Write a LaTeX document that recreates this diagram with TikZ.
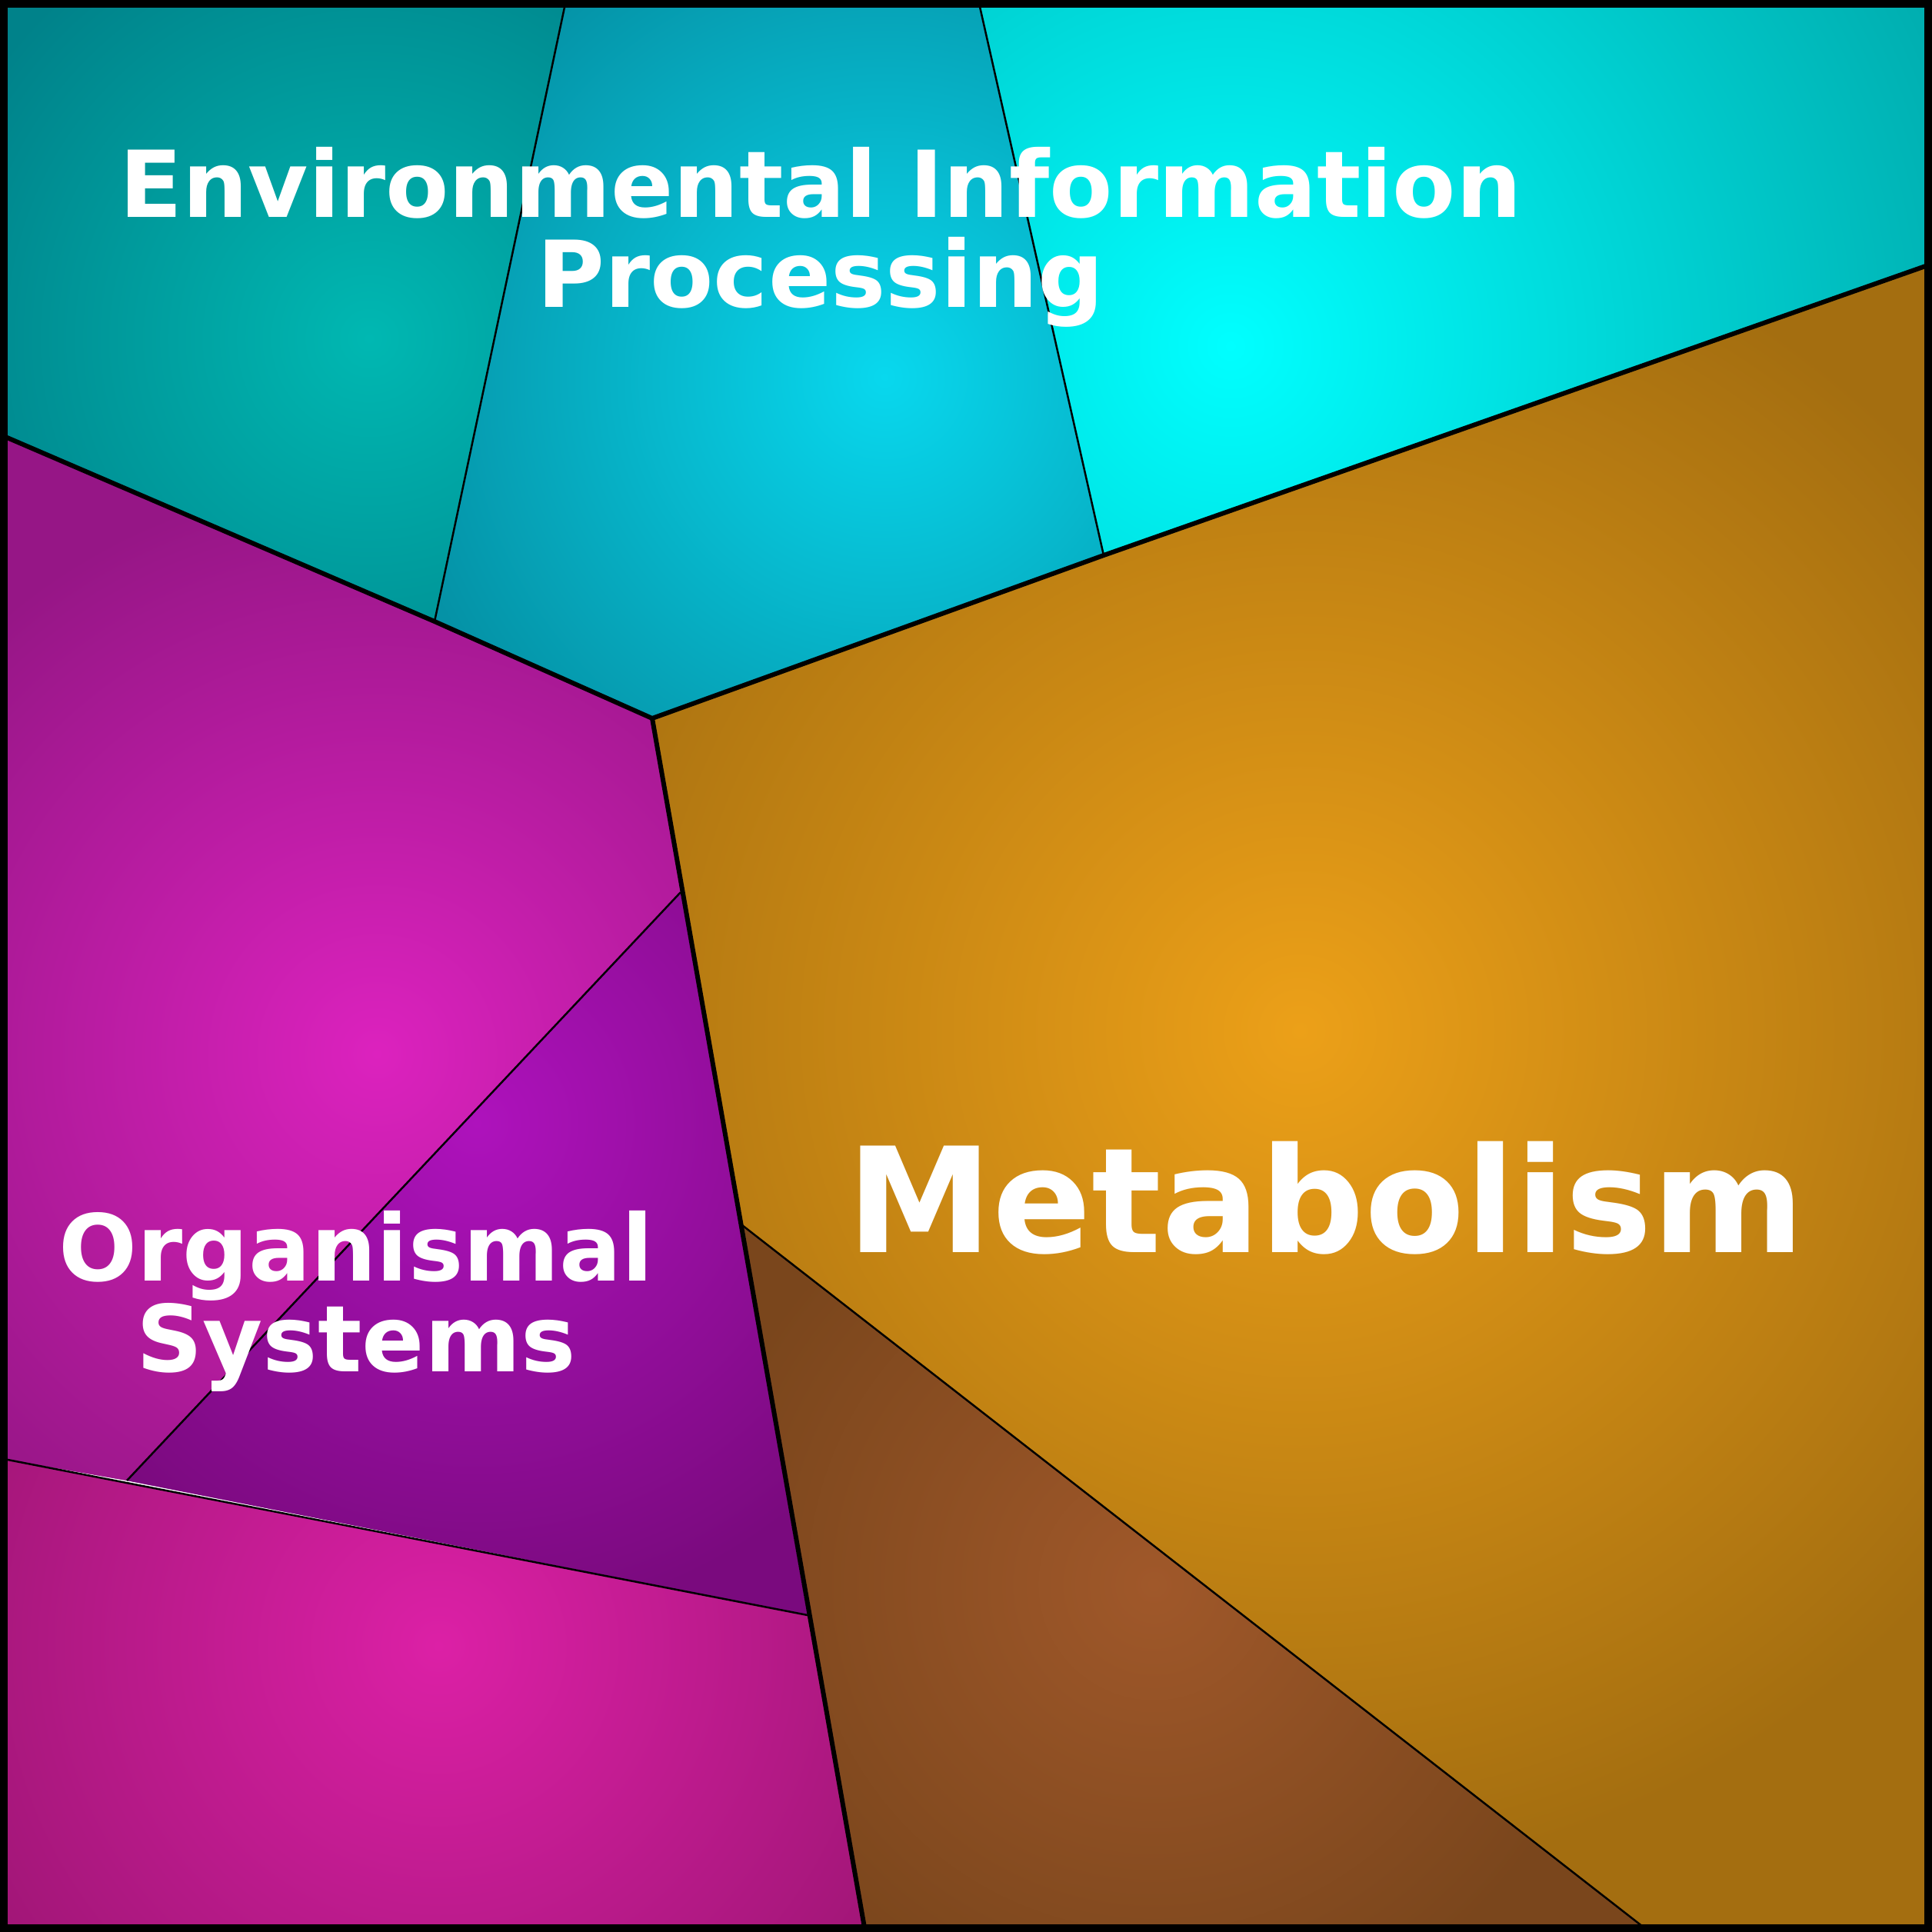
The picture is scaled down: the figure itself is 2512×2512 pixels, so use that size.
\documentclass[tikz,border=0pt]{standalone}
\usepackage{fontspec}
\setmainfont{DejaVu Sans}
\begin{document}
\begin{tikzpicture}[x=1pt,y=-1pt,
  lbl/.style={text=white,font=\bfseries,align=center,inner sep=0pt}]
\useasboundingbox (0,0) rectangle (2512,2512);
\newcommand{\region}[6]{%
  \begin{scope}\clip #1;
  \fill[#4] (0,0) rectangle (2512,2512);
  \shade[inner color=#3,outer color=#4] (#2) circle (#5);
  \end{scope}}
\coordinate (p1) at (0,565);
\coordinate (p2) at (565,808);
\coordinate (p3) at (848,934);
\coordinate (p4) at (1435,722);
\coordinate (p5) at (2512,343);
\coordinate (t1) at (736,0);
\coordinate (t2) at (1272,0);
\coordinate (q1) at (885,1160);
\coordinate (q2) at (965,1593);
\coordinate (q3) at (1050,2100);
\coordinate (q4) at (1125,2512);
\coordinate (r1) at (165,1925);
\coordinate (r2) at (0,1896);
\coordinate (r3) at (2145,2512);
\definecolor{a1}{HTML}{00B8B2}\definecolor{a2}{HTML}{00828A}
\definecolor{b1}{HTML}{08D8EE}\definecolor{b2}{HTML}{0592A6}
\definecolor{c1}{HTML}{00FFFF}\definecolor{c2}{HTML}{00AEB0}
\definecolor{d1}{HTML}{ECA018}\definecolor{d2}{HTML}{A46E10}
\definecolor{e1}{HTML}{A0582A}\definecolor{e2}{HTML}{7A461C}
\definecolor{f1}{HTML}{DC22BE}\definecolor{f2}{HTML}{961686}
\definecolor{g1}{HTML}{AE12BC}\definecolor{g2}{HTML}{7A0A7E}
\definecolor{h1}{HTML}{DC20A6}\definecolor{h2}{HTML}{96146E}
\region{(0,0)--(t1)--(p2)--(p1)--cycle}{480,440}{a1}{a2}{600}{}
\region{(t1)--(t2)--(p4)--(p3)--(p2)--cycle}{1150,490}{b1}{b2}{650}{}
\region{(t2)--(2512,0)--(p5)--(p4)--cycle}{1600,450}{c1}{c2}{1000}{}
\region{(p3)--(p4)--(p5)--(2512,2512)--(r3)--(q2)--cycle}{1690,1340}{d1}{d2}{1100}{}
\region{(q2)--(r3)--(q4)--(q3)--cycle}{1500,2060}{e1}{e2}{600}{}
\region{(p1)--(p2)--(p3)--(q1)--(r1)--(r2)--cycle}{490,1370}{f1}{f2}{750}{}
\region{(q1)--(q3)--(r1)--cycle}{620,1460}{g1}{g2}{650}{}
\region{(r2)--(q3)--(q4)--(0,2512)--cycle}{570,2140}{h1}{h2}{800}{}
\draw[line width=2.5pt] (t1)--(p2) (t2)--(p4) (q1)--(r1) (r2)--(q3) (q2)--(r3);
\draw[line width=6pt,line join=round] (p1)--(p2)--(p3)--(p4)--(p5) (p3)--(q4);
\draw[line width=10pt] (5,5) rectangle (2507,2507);
\node[lbl,font=\bfseries\fontsize{120}{117}\selectfont] (env) at (1067,308) {Environmental Information\\Processing};
\node[lbl,font=\bfseries\fontsize{190}{190}\selectfont] (met) at (1724,1558) {Metabolism};
\node[lbl,font=\bfseries\fontsize{120}{118}\selectfont] (org) at (463,1692) {Organismal\\Systems};
\end{tikzpicture}
\end{document}
